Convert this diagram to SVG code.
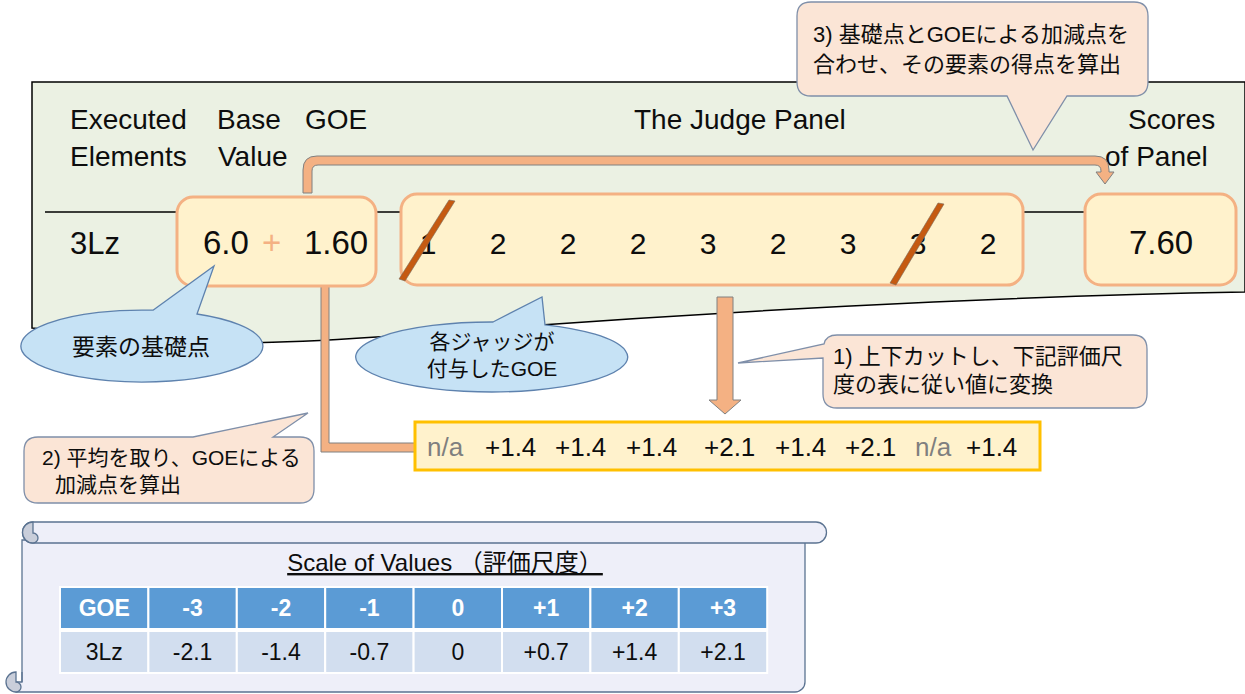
<svg xmlns="http://www.w3.org/2000/svg" width="1245" height="694" viewBox="0 0 1245 694">
<style>
text{font-family:'Liberation Sans','Noto Sans CJK JP',sans-serif;fill:#0d0d0d}
.hd{font-size:28px}
.num{font-size:33px}
.jd{font-size:30px;text-anchor:middle}
.box{fill:#FFF2CC;stroke:#F4B183;stroke-width:3}
.arr{fill:#F4B183;stroke:#808080;stroke-width:1}
.call{fill:#FBE5D6;stroke:#7F8FA9;stroke-width:1.3}
.ell{fill:#C6E2F5;stroke:#5E82AE;stroke-width:1.3}
.jp{font-size:22px}
.nv{font-size:26px}
.na{fill:#7F7F7F}
.th{fill:#5B9BD5;stroke:#fff;stroke-width:2}
.tr{fill:#D2DEEF;stroke:#fff;stroke-width:2}
.tht{font-size:23px;font-weight:bold;fill:#fff;text-anchor:middle}
.trt{font-size:23px;text-anchor:middle}
.slash{fill:#C55A11;stroke:#7a6a5a;stroke-width:0.6}
</style>
<g id="panel">
<path d="M32,82 H1245 V292 C1000,296 700,312 420,334 C300,343 230,345 170,340 C100,335 60,331 32,328 Z" fill="#EBF1E3" stroke="#000" stroke-width="1.5"/>
<line x1="45" y1="212" x2="1236" y2="212" stroke="#000" stroke-width="1.3"/>
<text class="hd" x="70" y="129">Executed</text>
<text class="hd" x="70" y="166">Elements</text>
<text class="hd" x="217" y="129">Base</text>
<text class="hd" x="218" y="166">Value</text>
<text class="hd" x="305" y="129">GOE</text>
<text class="hd" x="634" y="129">The Judge Panel</text>
<text class="hd" x="1128" y="129">Scores</text>
<text class="hd" x="1105" y="166">of Panel</text>
<text x="70" y="254" style="font-size:31px">3Lz</text>
</g>
<g id="connectors">
<path class="arr" d="M303,193 V170 Q303,156 317,156 H1095 Q1109,156 1109,170 V172 H1114 L1105,184 L1096,172 H1101 V171 Q1101,165 1095,165 H318 Q312,165 312,171 V193 Z"/>
<path class="arr" d="M717,297 H733 V400 H741 L725,414 L709,400 H717 Z"/>
<path class="arr" d="M415,443 V452 H321 V278 H313 L325,265 L337,278 H329 V443 Z"/>
</g>
<g id="base-goe">
<rect class="box" x="177" y="197" width="199" height="89" rx="16"/>
<text class="num" x="203" y="254">6.0</text>
<text class="num" x="262" y="254" style="fill:#F4B183">+</text>
<text class="num" x="304" y="254">1.60</text>
</g>
<g id="judges">
<rect class="box" x="401" y="194" width="622" height="91" rx="16"/>
<text class="jd" x="428" y="254">1</text>
<text class="jd" x="498" y="254">2</text>
<text class="jd" x="568" y="254">2</text>
<text class="jd" x="638" y="254">2</text>
<text class="jd" x="708" y="254">3</text>
<text class="jd" x="778" y="254">2</text>
<text class="jd" x="848" y="254">3</text>
<text class="jd" x="918" y="254">3</text>
<text class="jd" x="988" y="254">2</text>
<polygon class="slash" points="399,279 449,200 455,201 405,281"/>
<polygon class="slash" points="890,283 938,203 944,204 896,285"/>
</g>
<g id="score">
<rect class="box" x="1085" y="194" width="151" height="91" rx="16"/>
<text class="num" x="1129" y="254">7.60</text>
</g>
<g id="callout3">
<path class="call" d="M811,2 H1134 Q1148,2 1148,16 V82 Q1148,96 1134,96 H1067 L1033,150 L1007,96 H811 Q797,96 797,82 V16 Q797,2 811,2 Z"/>
<text class="jp" x="813" y="42">3) 基礎点とGOEによる加減点を</text>
<text class="jp" x="813" y="72">合わせ、その要素の得点を算出</text>
</g>
<g id="ellipse-base">
<path class="ell" d="M153,310.2 L214,266 L197,314 A121,36 0 1,1 153,310.2 Z"/>
<text x="141" y="355" style="font-size:23px;text-anchor:middle">要素の基礎点</text>
</g>
<g id="ellipse-judges">
<path class="ell" d="M493,322 L542,297 L545,324.8 A136,35 0 1,1 493,322 Z"/>
<text x="492" y="349" style="font-size:21px;text-anchor:middle">各ジャッジが</text>
<text x="492" y="376" style="font-size:21px;text-anchor:middle">付与したGOE</text>
</g>
<g id="callout1">
<path class="call" d="M837,335 H1133 Q1147,335 1147,349 V394 Q1147,408 1133,408 H837 Q823,408 823,394 V358 L738,363 L824,344 Q826,335 837,335 Z"/>
<text class="jp" x="833" y="364">1) 上下カットし、下記評価尺</text>
<text class="jp" x="833" y="392">度の表に従い値に変換</text>
</g>
<g id="values">
<rect x="415" y="422" width="625" height="48" fill="#FFF2CC" stroke="#FFC000" stroke-width="3"/>
<text class="nv na" x="427" y="456">n/a</text>
<text class="nv" x="485" y="456">+1.4</text>
<text class="nv" x="555" y="456">+1.4</text>
<text class="nv" x="626" y="456">+1.4</text>
<text class="nv" x="704" y="456">+2.1</text>
<text class="nv" x="775" y="456">+1.4</text>
<text class="nv" x="845" y="456">+2.1</text>
<text class="nv na" x="915" y="456">n/a</text>
<text class="nv" x="966" y="456">+1.4</text>
</g>
<g id="callout2">
<path class="call" d="M38,437 H193 L308,413 L273,437 H300 Q314,437 314,451 V489 Q314,503 300,503 H38 Q24,503 24,489 V451 Q24,437 38,437 Z"/>
<text x="42" y="465" style="font-size:21px">2) 平均を取り、GOEによる</text>
<text x="55" y="492" style="font-size:21px">加減点を算出</text>
</g>
<g id="scale-scroll">
<path d="M22,540 V682 H16 A10,10 0 0,0 16,692 H795 A10,10 0 0,0 805,682 V540 Z" fill="#EEEFF9" stroke="#5B7391" stroke-width="1.3"/>
<path d="M33,522 H816 A10.5,10.5 0 0,1 816,543 H33 A10.5,10.5 0 0,1 33,522 Z" fill="#EEEFF9" stroke="#5B7391" stroke-width="1.3"/>
<path d="M33,522 A10.5,10.5 0 0,0 33,543 A5,5 0 0,0 33,533 Z" fill="#C9CEDA" stroke="#5B7391" stroke-width="1.3"/>
<path d="M16,672 A10,10 0 0,0 16,692 A5,5 0 0,0 16,682 Z" fill="#C9CEDA" stroke="#5B7391" stroke-width="1.3"/>
<line x1="22" y1="672" x2="22" y2="682" stroke="#5B7391" stroke-width="1.3"/>
<text x="445" y="571" style="font-size:24px;text-anchor:middle;text-decoration:underline">Scale of Values （評価尺度）</text>
<rect class="th" x="60" y="587" width="88.4" height="42"/>
<rect class="th" x="148.4" y="587" width="88.4" height="42"/>
<rect class="th" x="236.8" y="587" width="88.4" height="42"/>
<rect class="th" x="325.2" y="587" width="88.4" height="42"/>
<rect class="th" x="413.6" y="587" width="88.4" height="42"/>
<rect class="th" x="502" y="587" width="88.4" height="42"/>
<rect class="th" x="590.4" y="587" width="88.4" height="42"/>
<rect class="th" x="678.8" y="587" width="88.4" height="42"/>
<rect class="tr" x="60" y="631" width="88.4" height="42"/>
<rect class="tr" x="148.4" y="631" width="88.4" height="42"/>
<rect class="tr" x="236.8" y="631" width="88.4" height="42"/>
<rect class="tr" x="325.2" y="631" width="88.4" height="42"/>
<rect class="tr" x="413.6" y="631" width="88.4" height="42"/>
<rect class="tr" x="502" y="631" width="88.4" height="42"/>
<rect class="tr" x="590.4" y="631" width="88.4" height="42"/>
<rect class="tr" x="678.8" y="631" width="88.4" height="42"/>
<text class="tht" x="104.2" y="616">GOE</text>
<text class="tht" x="192.6" y="616">-3</text>
<text class="tht" x="281" y="616">-2</text>
<text class="tht" x="369.4" y="616">-1</text>
<text class="tht" x="457.8" y="616">0</text>
<text class="tht" x="546.2" y="616">+1</text>
<text class="tht" x="634.6" y="616">+2</text>
<text class="tht" x="723" y="616">+3</text>
<text class="trt" x="104.2" y="660">3Lz</text>
<text class="trt" x="192.6" y="660">-2.1</text>
<text class="trt" x="281" y="660">-1.4</text>
<text class="trt" x="369.4" y="660">-0.7</text>
<text class="trt" x="457.8" y="660">0</text>
<text class="trt" x="546.2" y="660">+0.7</text>
<text class="trt" x="634.6" y="660">+1.4</text>
<text class="trt" x="723" y="660">+2.1</text>
</g>
</svg>
